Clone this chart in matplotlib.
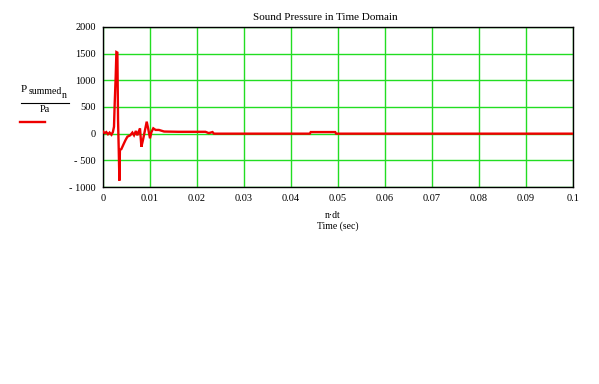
import matplotlib
matplotlib.use("Agg")
import matplotlib.pyplot as plt

# data
t = [0, 0.00035, 0.0007, 0.00106, 0.0014, 0.0018, 0.0021, 0.00234, 0.00249, 0.0027,
     0.00285, 0.00306, 0.0032, 0.00335, 0.00349, 0.0036, 0.0039, 0.00447, 0.0048, 0.0052,
     0.0058, 0.00625, 0.0066, 0.0070, 0.0073, 0.00787, 0.00817, 0.0085, 0.0089, 0.0093,
     0.0096, 0.0100, 0.0103, 0.0107, 0.0112, 0.0119, 0.013, 0.016, 0.019, 0.0218,
     0.0225, 0.0233, 0.0236, 0.044, 0.0442, 0.0494, 0.0496, 0.1]
p = [40, 10, 30, -10, 20, -20, 30, 130, 570, 1070,
     1530, 1520, 257, -305, -880, -305, -290, -180, -118, -56,
     -30, 20, -30, 50, -30, 100, -245, -120, 50, 225,
     100, -87, 30, 100, 70, 70, 40, 35, 35, 35,
     10, 30, 0, 0, 30, 30, 0, 0]

xticks = [0, 0.01, 0.02, 0.03, 0.04, 0.05, 0.06, 0.07, 0.08, 0.09, 0.1]
xticklabels = ["0", "0.01", "0.02", "0.03", "0.04", "0.05", "0.06", "0.07", "0.08", "0.09", "0.1"]
yticks = [-1000, -500, 0, 500, 1000, 1500, 2000]
yticklabels = ["- 1000", "- 500", "0", "500", "1000", "1500", "2000"]

W, H = 599, 384
fig = plt.figure(figsize=(W / 100, H / 100), dpi=100)
plt.rcParams['font.family'] = ['Liberation Serif', 'DejaVu Serif']

L, R, T, B = 103, 573, 27, 187
ax = fig.add_axes([L / W, 1 - B / H, (R - L) / W, (B - T) / H])
ax.set_xlim(0, 0.1)
ax.set_ylim(-1000, 2000)
ax.set_xticks(xticks)
ax.set_xticklabels(xticklabels, fontsize=7.5)
ax.set_yticks(yticks)
ax.set_yticklabels(yticklabels, fontsize=7.5)
ax.tick_params(length=0, pad=5)
ax.grid(True, color="#22dd22", linewidth=1.0, zorder=0)
ax.set_axisbelow(True)
for s in ax.spines.values():
    s.set_color("black")
    s.set_linewidth(1.0)

ax.plot(t, p, color="#ee0000", linewidth=1.7, zorder=3, solid_joinstyle="miter")

fig.text(325 / W, 1 - 17 / H, "Sound Pressure in Time Domain", fontsize=8,
         ha="center", va="center")
fig.text(333 / W, 1 - 215 / H, "n·dt", fontsize=7, ha="center", va="center")
fig.text(338 / W, 1 - 226 / H, "Time (sec)", fontsize=7, ha="center", va="center")

# y label fraction
fig.text(21 / W, 1 - 89 / H, "P", fontsize=8, ha="left", va="center")
fig.text(29 / W, 1 - 91 / H, "summed", fontsize=7, ha="left", va="center")
fig.text(62 / W, 1 - 95 / H, "n", fontsize=7, ha="left", va="center")
fig.add_artist(plt.Line2D([21 / W, 69 / W], [1 - 102.5 / H, 1 - 102.5 / H],
                          color="black", linewidth=0.8))
fig.text(45 / W, 1 - 110 / H, "Pa", fontsize=7.5, ha="center", va="center")
fig.add_artist(plt.Line2D([20 / W, 45 / W], [1 - 122 / H, 1 - 122 / H],
                          color="#ee0000", linewidth=1.7))

fig.savefig("out.png", dpi=100)
